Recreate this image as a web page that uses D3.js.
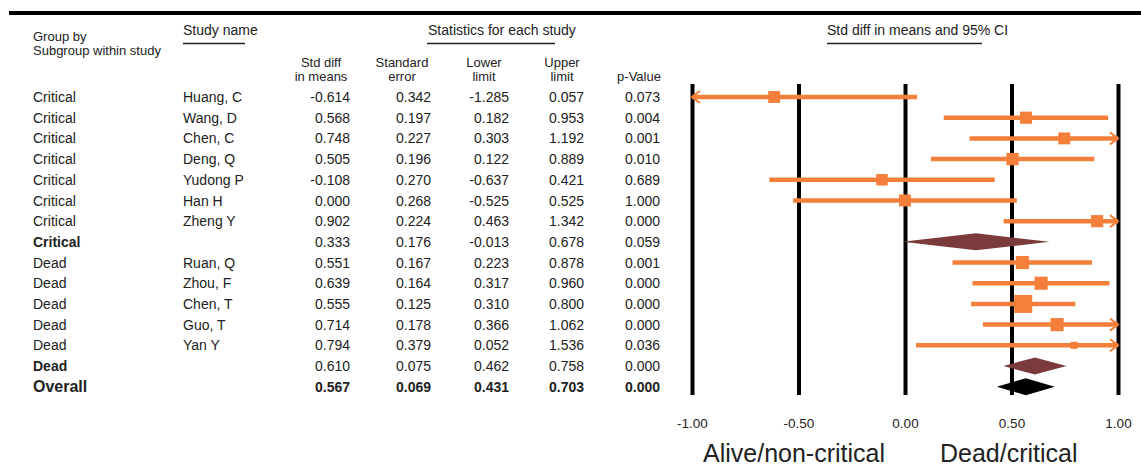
<!DOCTYPE html>
<html>
<head>
<meta charset="utf-8">
<script src="https://cdn.jsdelivr.net/npm/d3@7"></script>
<style>
  html, body { margin: 0; padding: 0; background: #fff; }
  svg { display: block; font-family: "Liberation Sans", Arial, Helvetica, sans-serif; }
</style>
</head>
<body>
<svg id="chart" width="1141" height="470"></svg>
<script>
// ---------------- data ----------------
const groups  = ["Critical","Critical","Critical","Critical","Critical","Critical","Critical","Critical",
                 "Dead","Dead","Dead","Dead","Dead","Dead","Overall"];
const studies = ["Huang, C","Wang, D","Chen, C","Deng, Q","Yudong P","Han H","Zheng Y","",
                 "Ruan, Q","Zhou, F","Chen, T","Guo, T","Yan Y","",""];
const rowType = ["study","study","study","study","study","study","study","subgroup",
                 "study","study","study","study","study","subgroup","overall"];
const stdDiff = [-0.614,0.568,0.748,0.505,-0.108,0.000,0.902,0.333,0.551,0.639,0.555,0.714,0.794,0.610,0.567];
const stdErr  = [0.342,0.197,0.227,0.196,0.270,0.268,0.224,0.176,0.167,0.164,0.125,0.178,0.379,0.075,0.069];
const lower   = [-1.285,0.182,0.303,0.122,-0.637,-0.525,0.463,-0.013,0.223,0.317,0.310,0.366,0.052,0.462,0.431];
const upper   = [0.057,0.953,1.192,0.889,0.421,0.525,1.342,0.678,0.878,0.960,0.800,1.062,1.536,0.758,0.703];
const pValue  = [0.073,0.004,0.001,0.010,0.689,1.000,0.000,0.059,0.001,0.000,0.000,0.000,0.036,0.000,0.000];
const weights = [14,14.5,14,15,13,14,14.5,0,17,17,32,17,5,0,0];
const tickValues = [-1.00,-0.50,0.00,0.50,1.00];
const axisLabels = ["Alive/non-critical","Dead/critical"];

// ---------------- layout ----------------
const svg = d3.select("#chart");
const textColor = "#222";
const orange = "#f47f3a";
const brown = "#7b3a3c";

const rows = d3.range(groups.length);
const y = d3.scalePoint().domain(rows).range([97, 386.7]);
const x = d3.scaleLinear().domain([-1, 1]).range([692, 1118]);
const sq = d3.scaleSqrt().domain([0, 32]).range([0, 18]);

// top rule
svg.append("line").attr("x1", 9).attr("x2", 1141).attr("y1", 13).attr("y2", 13)
  .attr("stroke", "#000").attr("stroke-width", 4);

// headers
const hdr = svg.append("g").attr("fill", textColor).attr("font-size", 14);
hdr.append("text").attr("x", 33).attr("y", 41).attr("font-size", 13).text("Group by");
hdr.append("text").attr("x", 33).attr("y", 55).attr("font-size", 13).text("Subgroup within study");
hdr.append("text").attr("x", 183).attr("y", 35).text("Study name");
hdr.append("text").attr("x", 428).attr("y", 35).text("Statistics for each study");
hdr.append("text").attr("x", 827).attr("y", 35).text("Std diff in means and 95% CI");
[[183,245],[427,555],[827,982]].forEach(([a,b]) => {
  svg.append("line").attr("x1", a).attr("x2", b).attr("y1", 43.5).attr("y2", 43.5)
    .attr("stroke", "#222").attr("stroke-width", 1.5);
});

const colRight = [350, 431, 509, 584, 660];
const colCenter = [321, 402, 484, 562, 639];
const colHeads = [["Std diff","in means"],["Standard","error"],["Lower","limit"],["Upper","limit"],["p-Value"]];
colHeads.forEach((lines, i) => {
  const baseY = lines.length === 2 ? [67, 81] : [81];
  lines.forEach((t, j) => {
    hdr.append("text").attr("x", colCenter[i]).attr("y", baseY[j]).attr("font-size", 13)
      .attr("text-anchor", "middle").text(t);
  });
});

// table body
const body = svg.append("g").attr("fill", textColor);
const cols = [stdDiff, stdErr, lower, upper, pValue];
rows.forEach(i => {
  const t = rowType[i];
  const g = body.append("g").attr("font-size", 14);
  g.append("text").attr("x", 33).attr("y", y(i)).attr("dy", "0.36em")
    .attr("font-weight", t === "study" ? "normal" : "bold")
    .attr("font-size", t === "overall" ? 16 : 14).text(groups[i]);
  if (studies[i]) g.append("text").attr("x", 183).attr("y", y(i)).attr("dy", "0.36em").text(studies[i]);
  cols.forEach((arr, c) => {
    g.append("text").attr("x", colRight[c]).attr("y", y(i)).attr("dy", "0.36em")
      .attr("font-weight", t === "overall" ? "bold" : "normal")
      .attr("text-anchor", "end").text(arr[i].toFixed(3));
  });
});

// forest axis with vertical reference lines
const axisY = 395;
const axis = d3.axisBottom(x).tickValues(tickValues)
  .tickSizeInner(-(axisY - 84)).tickSizeOuter(0).tickPadding(23)
  .tickFormat(d => d.toFixed(2));
const ag = svg.append("g").attr("transform", `translate(0,${axisY})`).call(axis);
ag.select(".domain").remove();
ag.selectAll(".tick line").attr("stroke", "#000").attr("stroke-width", 4);
ag.selectAll(".tick text").attr("fill", textColor).attr("font-size", 13.5)
  .attr("font-family", "'Liberation Sans', Arial, sans-serif");

svg.append("text").attr("x", 703).attr("y", 462).attr("font-size", 25).attr("fill", textColor).text(axisLabels[0]);
svg.append("text").attr("x", 940).attr("y", 462).attr("font-size", 25).attr("fill", textColor).text(axisLabels[1]);

// forest marks
const fg = svg.append("g");
const [dMin, dMax] = x.domain();
rows.forEach(i => {
  const cy = y(i);
  if (rowType[i] === "study") {
    const lo = Math.max(lower[i], dMin), hi = Math.min(upper[i], dMax);
    fg.append("line").attr("x1", x(lo)).attr("x2", x(hi)).attr("y1", cy).attr("y2", cy)
      .attr("stroke", orange).attr("stroke-width", 4.5);
    if (lower[i] < dMin) {
      const ax = x(dMin);
      fg.append("path").attr("d", `M${ax + 8},${cy - 6} L${ax},${cy} L${ax + 8},${cy + 6}`)
        .attr("fill", "none").attr("stroke", orange).attr("stroke-width", 2);
    }
    if (upper[i] > dMax) {
      const ax = x(dMax);
      fg.append("path").attr("d", `M${ax - 8},${cy - 6} L${ax},${cy} L${ax - 8},${cy + 6}`)
        .attr("fill", "none").attr("stroke", orange).attr("stroke-width", 2);
    }
    const s = sq(weights[i]);
    fg.append("rect").attr("x", x(stdDiff[i]) - s / 2).attr("y", cy - s / 2)
      .attr("width", s).attr("height", s).attr("fill", orange);
  } else {
    const h = 8.5;
    fg.append("path")
      .attr("d", `M${x(lower[i])},${cy} L${x(stdDiff[i])},${cy - h} L${x(upper[i])},${cy} L${x(stdDiff[i])},${cy + h} Z`)
      .attr("fill", rowType[i] === "overall" ? "#000" : brown);
  }
});
</script>
</body>
</html>
